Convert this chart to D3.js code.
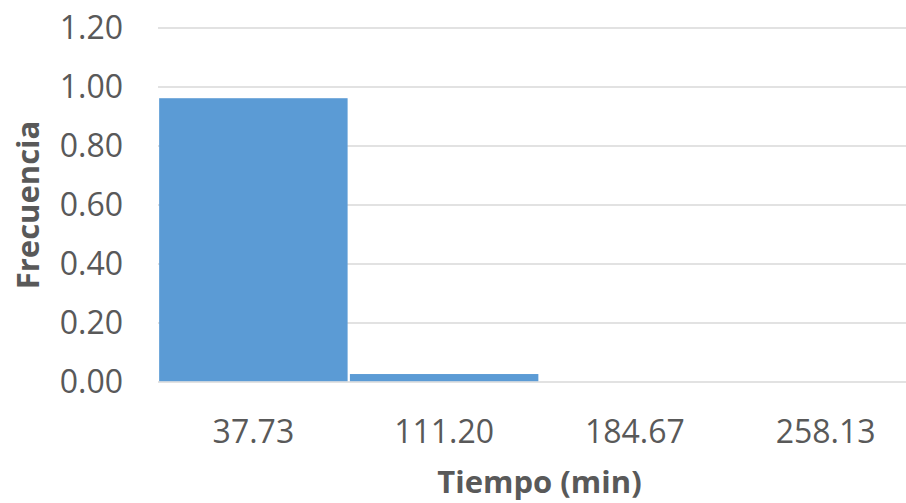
<!DOCTYPE html>
<html>
<head>
<meta charset="utf-8">
<script src="https://cdn.jsdelivr.net/npm/d3@7"></script>
<style>
    body { margin: 0; background: #fff; }
    svg { display: block; font-family: "Open Sans", sans-serif; }
</style>
</head>
<body>
<svg width="906" height="503"></svg>
<script>
// bins (class marks) and relative frequency
const categories = ["37.73", "111.20", "184.67", "258.13"];
const frecuencia = [0.962, 0.027, 0, 0];
const yTicks = [0, 0.2, 0.4, 0.6, 0.8, 1.0, 1.2];

const svg = d3.select("svg");

const area = {
    left: 158,
    right: 921,   // plot area runs past the window edge, as in the original
    top: 28,
    bottom: 382
};

const data = categories.map((c, i) => ({ label: c, value: frecuencia[i] }));

const scX = d3.scaleBand()
    .domain(categories)
    .range([area.left, area.right])
    .paddingInner(0.012)
    .paddingOuter(0.006);

const scY = d3.scaleLinear()
    .domain([0, 1.2])
    .range([area.bottom, area.top]);

// gridlines
svg.append("g")
    .selectAll("line")
    .data(yTicks)
    .enter()
    .append("line")
    .attr("x1", area.left)
    .attr("x2", area.right)
    .attr("y1", d => scY(d))
    .attr("y2", d => scY(d))
    .attr("stroke", "#d9d9d9")
    .attr("stroke-width", 1.6);

// bars
svg.append("g")
    .selectAll("rect")
    .data(data)
    .enter()
    .append("rect")
    .attr("x", d => scX(d.label))
    .attr("y", d => scY(d.value))
    .attr("width", scX.bandwidth())
    .attr("height", d => Math.max(0, area.bottom - scY(d.value) - 0.8))
    .attr("fill", "#5b9bd5");

// y tick labels
const axisY = d3.axisLeft(scY)
    .tickValues(yTicks)
    .tickFormat(d3.format(".2f"))
    .tickSize(0)
    .tickPadding(35);

const gY = svg.append("g")
    .attr("transform", `translate(${area.left},0)`)
    .call(axisY);
gY.select(".domain").remove();
gY.selectAll("text")
    .attr("fill", "#595959")
    .style("font-size", "32px")
    .style("font-family", "'Open Sans', sans-serif");

// x tick labels
const axisX = d3.axisBottom(scX)
    .tickSize(0)
    .tickPadding(38);

const gX = svg.append("g")
    .attr("transform", `translate(0,${area.bottom})`)
    .call(axisX);
gX.select(".domain").remove();
gX.selectAll("text")
    .attr("fill", "#595959")
    .style("font-size", "32px")
    .style("font-family", "'Open Sans', sans-serif");

// axis titles
svg.append("text")
    .attr("x", (area.left + area.right) / 2)
    .attr("y", 493)
    .attr("text-anchor", "middle")
    .attr("fill", "#595959")
    .style("font-size", "31px")
    .style("font-weight", "bold")
    .text("Tiempo (min)");

svg.append("text")
    .attr("transform", `translate(39,${(area.top + area.bottom) / 2}) rotate(-90)`)
    .attr("text-anchor", "middle")
    .attr("fill", "#595959")
    .style("font-size", "31px")
    .style("font-weight", "bold")
    .text("Frecuencia");
</script>
</body>
</html>
